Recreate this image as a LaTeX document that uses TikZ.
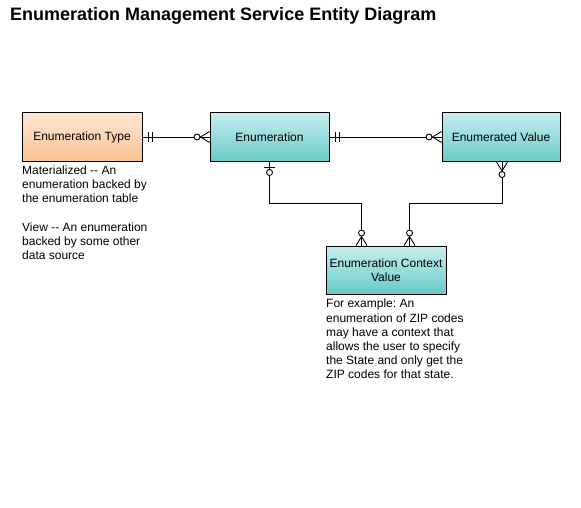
\documentclass[tikz,border=0pt]{standalone}
\usepackage{fontspec}
\setmainfont{Liberation Sans}
\usetikzlibrary{calc}
\frenchspacing
\definecolor{peachtop}{HTML}{FFE6D3}
\definecolor{peachbot}{HTML}{FAC393}
\definecolor{tealtop}{HTML}{C8EEEE}
\definecolor{tealbot}{HTML}{68CACA}
\newcommand{\dd}{-{}-}
\tikzset{
  entity/.style={draw=black, line width=0.9pt, minimum height=49pt, inner sep=2pt,
    font=\fontsize{12}{14}\selectfont, align=center},
  orangebox/.style={entity, top color=peachtop, bottom color=peachbot},
  tealbox/.style={entity, top color=tealtop, bottom color=tealbot},
  note/.style={anchor=north west, inner sep=0pt, align=left, font=\fontsize{12}{14.2}\selectfont},
  conn/.style={draw=black, line width=0.9pt},
  zmany/.pic={
    \draw[conn] (0,5.5) -- (-9,0) -- (0,-5.5);
    \draw[conn, fill=white] (-12.5,0) circle (3);
  },
  zone/.pic={
    \draw[conn] (-5.5,5.5) -- (-5.5,-5.5);
    \draw[conn, fill=white] (-10.5,0) circle (3);
  },
  onlyone/.pic={
    \draw[conn] (-6,5) -- (-6,-5);
    \draw[conn] (-10,5) -- (-10,-5);
  },
}
\begin{document}
\begin{tikzpicture}[x=1pt, y=-1pt]
\useasboundingbox (0,0) rectangle (581,507);
\node[anchor=base west, inner sep=0pt, font=\bfseries\fontsize{18}{20}\selectfont] (title) at (10,20) {Enumeration Management Service Entity Diagram};

\node[orangebox, minimum width=120pt] (type) at (82,137) {Enumeration Type};
\node[tealbox, minimum width=119pt] (enum) at (269.5,137) {Enumeration};
\node[tealbox, minimum width=118pt] (ev) at (501,137) {Enumerated Value};
\node[tealbox, minimum width=120pt, minimum height=48pt] (ctx) at (386,270) {Enumeration Context\\Value};

\node[note] (typenote) at (22,165.5) {Materialized \dd{} An\\enumeration backed by\\the enumeration table\\[14.2pt]View \dd{} An enumeration\\backed by some other\\data source};
\node[note] (ctxnote) at (326,299) {For example: An\\enumeration of ZIP codes\\may have a context that\\allows the user to specify\\the State and only get the\\ZIP codes for that state.};

\coordinate (c1) at ($(ctx.north west)+(36,0)$);
\coordinate (c2) at ($(ctx.north west)+(84,0)$);
\coordinate (evb) at ($(ev.south)+(1,0)$);

\draw[conn] (type.east) -- (enum.west);
\draw[conn] (enum.east) -- (ev.west);
\draw[conn] (enum.south) -- (enum.south |- 0,203.5) -| (c1);
\draw[conn] (evb) -- (evb |- 0,203.5) -| (c2);

\pic[rotate=180] at (type.east) {onlyone};
\pic at (enum.west) {zmany};
\pic[rotate=180] at (enum.east) {onlyone};
\pic at (ev.west) {zmany};
\pic[rotate=90] at (enum.south) {zone};
\pic[rotate=90] at (evb) {zmany};
\pic[rotate=-90] at (c1) {zmany};
\pic[rotate=-90] at (c2) {zmany};
\end{tikzpicture}
\end{document}
